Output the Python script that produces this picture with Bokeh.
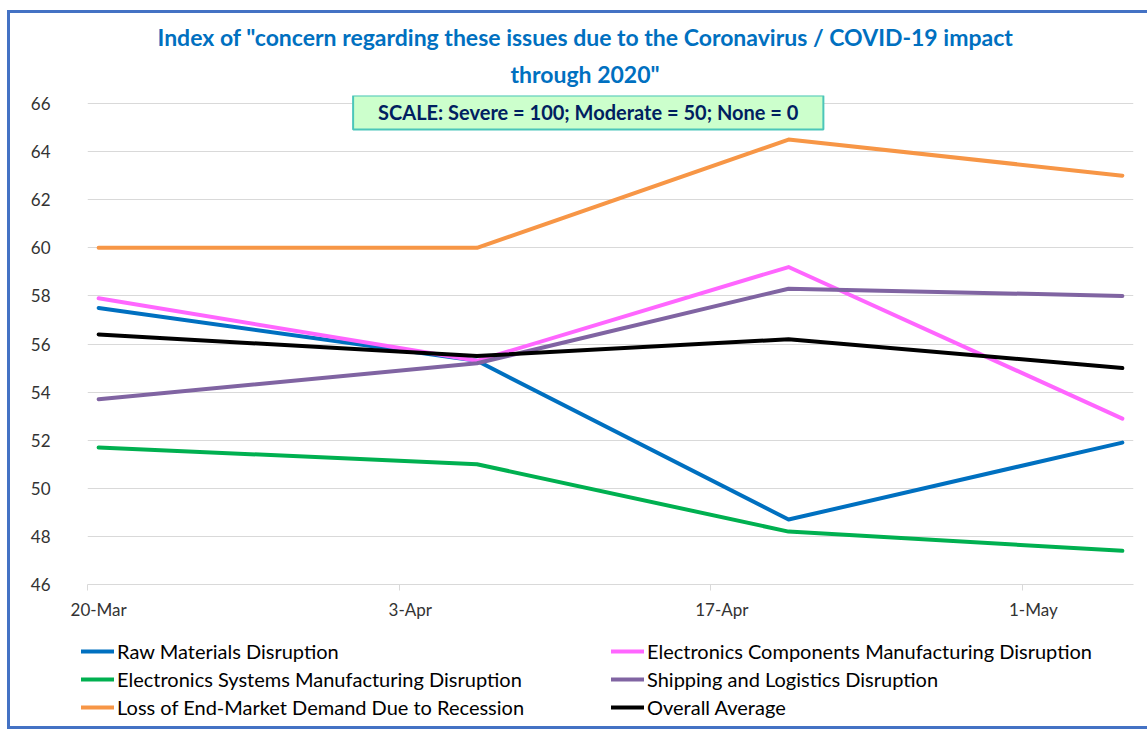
import pandas as pd
from bokeh.plotting import figure
from bokeh.layouts import column
from bokeh.models import FixedTicker, Label, Legend, LegendItem, Range1d, Title
from bokeh.embed import file_html
from bokeh.resources import INLINE

# ---------------- data ----------------
survey_dates = ["2020-03-20", "2020-04-06", "2020-04-20", "2020-05-05"]
tick_dates = ["2020-03-20", "2020-04-03", "2020-04-17", "2020-05-01"]
tick_labels = ["20-Mar", "3-Apr", "17-Apr", "1-May"]
y_ticks = [46, 48, 50, 52, 54, 56, 58, 60, 62, 64, 66]

series_names = [
    "Raw Materials Disruption",
    "Electronics Components Manufacturing Disruption",
    "Electronics Systems Manufacturing Disruption",
    "Shipping and Logistics Disruption",
    "Loss of End-Market Demand Due to Recession",
    "Overall Average",
]
raw_materials = [57.5, 55.3, 48.7, 51.9]
electronics_components = [57.9, 55.3, 59.2, 52.9]
electronics_systems = [51.7, 51.0, 48.2, 47.4]
shipping_logistics = [53.7, 55.2, 58.3, 58.0]
loss_demand = [60.0, 60.0, 64.5, 63.0]
overall_average = [56.4, 55.5, 56.2, 55.0]
series_values = [raw_materials, electronics_components, electronics_systems,
                 shipping_logistics, loss_demand, overall_average]
series_colors = ["#0070C0", "#FF66FF", "#00B050", "#8064A2", "#F79646", "#000000"]

title_lines = ['Index of "concern regarding these issues due to the Coronavirus / COVID-19 impact',
               'through 2020"']
scale_text = "SCALE: Severe = 100; Moderate = 50; None = 0"

# ---------------- transforms ----------------
origin = pd.Timestamp(survey_dates[0])
# each day occupies one unit; values and day labels sit mid-day
x_vals = [(pd.Timestamp(d) - origin).days + 0.5 for d in survey_dates]
day_starts = [(pd.Timestamp(d) - origin).days for d in tick_dates]
label_pos = [d + 0.5 for d in day_starts]

FONT = "Lato"
LINE_W = 4

# ---------------- main chart ----------------
p = figure(frame_width=1046, frame_height=489,
           min_border_left=77, min_border_right=14,
           min_border_top=82, min_border_bottom=50,
           x_range=Range1d(0, 47), y_range=Range1d(46, 66.333),
           output_backend="svg", toolbar_location=None)
p.outline_line_color = None
p.background_fill_color = "white"
p.border_fill_color = "white"

p.xaxis.ticker = FixedTicker(ticks=label_pos, minor_ticks=day_starts)
p.xaxis.major_label_overrides = {t: l for t, l in zip(label_pos, tick_labels)}
p.xaxis.axis_line_color = "#D9D9D9"
p.xaxis.major_tick_line_color = None
p.xaxis.major_tick_out = 6
p.xaxis.major_tick_in = 0
p.xaxis.minor_tick_line_color = "#D9D9D9"
p.xaxis.minor_tick_out = 6
p.xaxis.minor_tick_in = 0
p.xaxis.major_label_standoff = 8
p.xaxis.major_label_text_font = FONT
p.xaxis.major_label_text_font_size = "17px"
p.xaxis.major_label_text_color = "#333333"

p.yaxis.ticker = FixedTicker(ticks=y_ticks)
p.yaxis.axis_line_color = None
p.yaxis.major_tick_line_color = None
p.yaxis.minor_tick_line_color = None
p.yaxis.major_tick_out = 0
p.yaxis.major_label_standoff = 37
p.yaxis.major_label_text_font = FONT
p.yaxis.major_label_text_font_size = "17px"
p.yaxis.major_label_text_color = "#333333"

p.xgrid.grid_line_color = None
p.ygrid.grid_line_color = "#D9D9D9"
p.ygrid.grid_line_width = 1

for vals, col in zip(series_values, series_colors):
    p.line(x_vals, vals, line_color=col, line_width=LINE_W,
           line_cap="round", line_join="round")

p.add_layout(Title(text=title_lines[1], align="left", offset=423, standoff=15,
                   text_font=FONT, text_font_size="23px", text_font_style="bold",
                   text_color="#0070C0"), "above")
p.add_layout(Title(text=title_lines[0], align="left", offset=70, standoff=0,
                   text_font=FONT, text_font_size="23px", text_font_style="bold",
                   text_color="#0070C0"), "above")

p.add_layout(Label(x=22.5, y=65.63, text=scale_text, text_align="center",
                   text_baseline="middle", text_font=FONT, text_font_size="20px",
                   text_font_style="bold", text_color="#002060",
                   background_fill_color="#CCFFCC",
                   border_line_color="#4BC6B9", border_line_width=2,
                   padding=(25, 5)))

# ---------------- legend strip ----------------
# the same series are drawn again here, outside this strip's visible range,
# only so that the legend has styled renderers to show
p2 = figure(frame_width=1137, frame_height=92,
            min_border_left=0, min_border_right=0, min_border_top=0, min_border_bottom=0,
            x_range=Range1d(0, 1), y_range=Range1d(0, 1),
            x_axis_location=None, y_axis_location=None,
            output_backend="svg", toolbar_location=None)
p2.outline_line_color = None
p2.grid.visible = False
p2.border_fill_color = "white"

items = []
for name, vals, col in zip(series_names, series_values, series_colors):
    r = p2.line(x_vals, vals, line_color=col, line_width=LINE_W, line_cap="round")
    items.append(LegendItem(label=name, renderers=[r]))

legend = Legend(items=items, orientation="horizontal", ncols=2,
                location=(71, 7), padding=0, margin=0, spacing=4,
                glyph_width=33, glyph_height=20, label_standoff=3,
                label_width=490, label_height=20,
                label_text_font=FONT, label_text_font_size="20px",
                label_text_color="#000000",
                border_line_color=None, background_fill_alpha=0)
p2.add_layout(legend)

layout = column(p, p2, spacing=0,
                styles={"margin-left": "7px", "margin-top": "10px",
                        "border-left": "3px solid #4472C4",
                        "border-top": "3px solid #4472C4",
                        "border-bottom": "3px solid #4472C4"})

open("out.html", "w").write(file_html(layout, INLINE))
